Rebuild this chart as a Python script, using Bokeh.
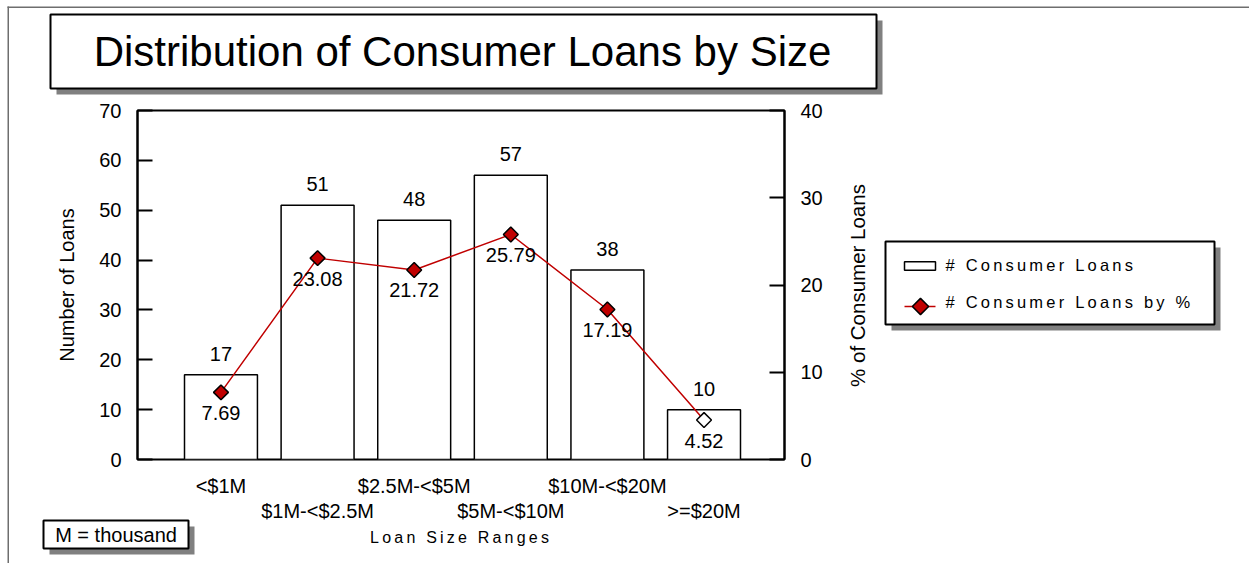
import math
from bokeh.plotting import figure
from bokeh.models import Range1d, LinearAxis, FixedTicker, ColumnDataSource
from bokeh.core.properties import value
from bokeh.embed import file_html
from bokeh.resources import INLINE

# ---------------- data ----------------
categories = ["<$1M", "$1M-<$2.5M", "$2.5M-<$5M", "$5M-<$10M", "$10M-<$20M", ">=$20M"]
loan_counts = [17, 51, 48, 57, 38, 10]
loan_pct = [7.69, 23.08, 21.72, 25.79, 17.19, 4.52]
left_ticks = [0, 10, 20, 30, 40, 50, 60, 70]
right_ticks = [0, 10, 20, 30, 40]
series_names = ["# Consumer Loans", "# Consumer Loans by %"]
title_text = "Distribution of Consumer Loans by Size"
x_title = "Loan Size Ranges"
y_title = "Number of Loans"
y2_title = "% of Consumer Loans"
note_text = "M = thousand"

FONT = "Liberation Sans"
RED = "#c00000"
SHADOW = "#808080"
FRAME_GRAY = "#6e6e6e"
W, H = 1249, 563


def layer_style(z, extra=None):
    st = {"position": "absolute", "left": "0px", "top": "0px", "z-index": str(z)}
    if extra:
        st.update(extra)
    return st


def pixel_fig(z, extra=None, fill="white"):
    f = figure(width=W, height=H, output_backend="svg", toolbar_location=None,
               x_range=Range1d(0, W), y_range=Range1d(H, 0), min_border=0,
               x_axis_location=None, y_axis_location=None)
    f.grid.visible = False
    f.outline_line_color = None
    f.background_fill_color = fill
    f.border_fill_color = fill
    f.styles = layer_style(z, extra)
    return f


# ---------------- background layer: boxes, shadows, legend keys ----------------
bg = pixel_fig(0)
bg.quad(left=[7, 7], right=[W, 8.5], top=[6, 6], bottom=[7.5, H],
        fill_color=FRAME_GRAY, line_color=None)
# title box
bg.quad(left=[56], right=[882], top=[20], bottom=[94], fill_color=SHADOW, line_color=None)
bg.quad(left=[50], right=[876], top=[14], bottom=[88], fill_color="white",
        line_color="black", line_width=2)
bg.text(x=[462], y=[51], text=[title_text], text_align="center", text_baseline="middle",
        text_color="black", text_font=value(FONT), text_font_size=value("42px"))
# legend box
bg.quad(left=[891], right=[1220], top=[247], bottom=[330], fill_color=SHADOW, line_color=None)
bg.quad(left=[885], right=[1214], top=[241], bottom=[324], fill_color="white",
        line_color="black", line_width=2)
bg.rect(x=[919.5], y=[265.5], width=[31], height=[8.5], fill_color="white",
        line_color="black", line_width=1.5)
bg.segment(x0=[904], y0=[306], x1=[935], y1=[306], line_color=RED, line_width=1.5)
bg.scatter(x=[920], y=[306], marker="square", angle=math.pi / 4, size=11.5,
           fill_color=RED, line_color="black", line_width=1.5)
# note box
bg.quad(left=[49], right=[194], top=[526], bottom=[554], fill_color=SHADOW, line_color=None)
bg.quad(left=[43], right=[188], top=[520], bottom=[548], fill_color="white",
        line_color="black", line_width=2)
bg.text(x=[115.5], y=[534], text=[note_text], text_align="center", text_baseline="middle",
        text_color="black", text_font=value(FONT), text_font_size=value("20px"))
# right axis title (reads bottom-to-top)
bg.text(x=[857], y=[285], text=[y2_title], angle=math.pi / 2, text_align="center",
        text_baseline="middle", text_color="black", text_font=value(FONT),
        text_font_size=value("20.5px"))

# ---------------- main chart layer ----------------
p = figure(width=W, height=H, output_backend="svg", toolbar_location=None,
           x_range=Range1d(-0.864, 5.833), y_range=Range1d(0, 70),
           min_border_left=137, min_border_right=W - 784,
           min_border_top=110, min_border_bottom=H - 459)
p.background_fill_color = None
p.border_fill_color = None
p.outline_line_color = "black"
p.outline_line_width = 2
p.grid.visible = False
p.extra_y_ranges = {"pct": Range1d(0, 40)}
p.styles = layer_style(1)


def style_num_axis(ax):
    ax.minor_tick_line_color = None
    ax.major_tick_in = 15
    ax.major_tick_out = 0
    ax.major_tick_line_width = 2
    ax.axis_line_width = 2
    ax.major_label_standoff = 16
    ax.major_label_text_font = FONT
    ax.major_label_text_font_size = "20px"
    ax.major_label_text_color = "black"


ya = p.yaxis[0]
ya.ticker = FixedTicker(ticks=left_ticks)
style_num_axis(ya)
ya.axis_label = y_title
ya.axis_label_text_font = FONT
ya.axis_label_text_font_size = "20px"
ya.axis_label_text_font_style = "normal"
ya.axis_label_text_color = "black"
ya.axis_label_standoff = 18

ra = LinearAxis(y_range_name="pct", ticker=FixedTicker(ticks=right_ticks))
style_num_axis(ra)
p.add_layout(ra, "right")

idx = list(range(len(categories)))
top_row = idx[0::2]
bot_row = idx[1::2]


def style_cat_axis(ax, standoff):
    ax.axis_line_color = None
    ax.major_tick_in = 0
    ax.major_tick_out = 0
    ax.minor_tick_line_color = None
    ax.major_tick_line_color = None
    ax.major_label_standoff = standoff
    ax.major_label_text_font = FONT
    ax.major_label_text_font_size = "20px"
    ax.major_label_text_color = "black"


xa = p.xaxis[0]
xa.ticker = FixedTicker(ticks=top_row)
xa.major_label_overrides = {i: categories[i] for i in top_row}
style_cat_axis(xa, 15)

xb = LinearAxis(ticker=FixedTicker(ticks=bot_row),
                major_label_overrides={i: categories[i] for i in bot_row})
style_cat_axis(xb, 0)
p.add_layout(xb, "below")

marker_fill = [RED] * (len(loan_pct) - 1) + ["white"]
src = ColumnDataSource(dict(
    x=idx, count=loan_counts, pct=loan_pct,
    count_lbl=[str(v) for v in loan_counts],
    pct_lbl=[f"{v:.2f}" for v in loan_pct],
    mfill=marker_fill,
))

p.vbar(x="x", top="count", width=0.755, source=src, fill_color="white",
       line_color="black", line_width=1.5)
p.line("x", "pct", source=src, y_range_name="pct", line_color=RED, line_width=1.5)
p.scatter("x", "pct", source=src, y_range_name="pct", marker="square",
          angle=math.pi / 4, size=10.5, fill_color="mfill", line_color="black",
          line_width=1.5)
p.text("x", "count", text="count_lbl", source=src, y_offset=-21,
       text_align="center", text_baseline="middle", text_color="black",
       text_font=value(FONT), text_font_size=value("20px"))
p.text("x", "pct", text="pct_lbl", source=src, y_range_name="pct", y_offset=20.5,
       text_align="center", text_baseline="middle", text_color="black",
       text_font=value(FONT), text_font_size=value("20px"))

# ---------------- letter-spaced text layer ----------------
ov = pixel_fig(2, {"letter-spacing": "3.2px"}, fill=None)
ov.text(x=[945, 945], y=[264, 301], text=series_names, text_align="left",
        text_baseline="middle", text_color="black", text_font=value(FONT),
        text_font_size=value("16.5px"))
ov.text(x=[435], y=[537], text=[x_title], text_align="center", text_baseline="middle",
        text_color="black", text_font=value(FONT), text_font_size=value("16px"))

open("out.html", "w").write(file_html([bg, p, ov], INLINE))
